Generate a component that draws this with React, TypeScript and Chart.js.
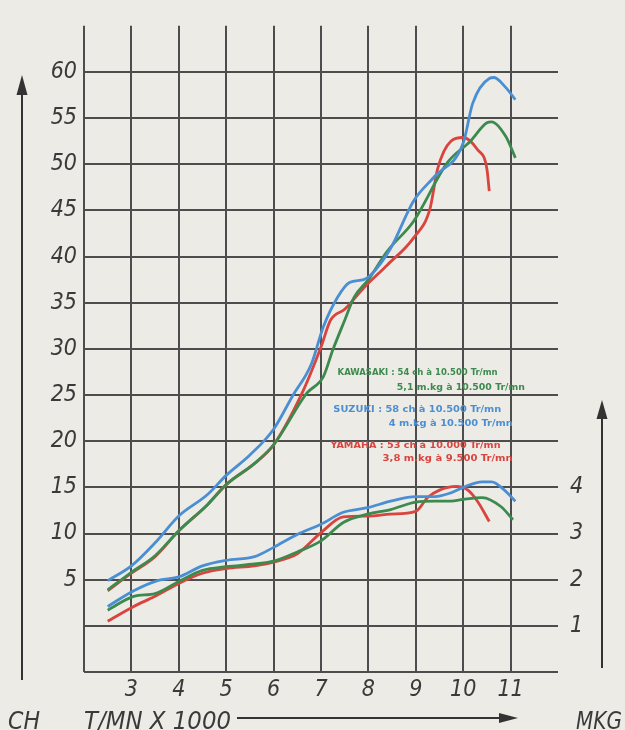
import React, { useEffect, useRef } from "react";
import { Chart, registerables } from "chart.js";

Chart.register(...registerables);

// ---- tick labels ----
const rpmTicks = [3, 4, 5, 6, 7, 8, 9, 10, 11];
const chTicks = [5, 10, 15, 20, 25, 30, 35, 40, 45, 50, 55, 60];
const mkgTicks = [1, 2, 3, 4];

// ---- power (CH) ----
const suzukiPowerRpm = [2.5, 3.0, 3.5, 4.0, 4.6, 5.0, 5.5, 6.0, 6.4, 6.8, 7.05, 7.35, 7.6, 7.9, 8.05, 8.47, 8.95, 9.4, 10.0, 10.2, 10.55, 10.65, 10.9, 11.1];
const suzukiPower = [4.9, 6.5, 9.0, 11.9, 14.2, 16.3, 18.5, 21.3, 24.9, 28.4, 32.4, 35.6, 37.2, 37.5, 38.0, 40.9, 46.0, 48.7, 52.3, 56.6, 59.3, 59.4, 58.3, 57.0];

const kawaPowerRpm = [2.5, 3.0, 3.5, 4.0, 4.6, 5.0, 5.6, 6.0, 6.7, 7.05, 7.25, 7.5, 7.7, 8.0, 8.4, 8.95, 9.67, 10.15, 10.5, 10.6, 10.9, 11.1];
const kawaPower = [3.9, 5.8, 7.6, 10.3, 13.1, 15.3, 17.6, 19.6, 25.2, 27.0, 29.9, 33.1, 35.6, 37.5, 40.6, 43.8, 50.2, 52.5, 54.5, 54.6, 53.0, 50.7];

const yamahaPowerRpm = [2.5, 3.0, 3.5, 4.0, 4.6, 5.0, 5.6, 6.0, 6.6, 7.0, 7.2, 7.5, 7.9, 8.4, 8.95, 9.3, 9.46, 9.74, 10.0, 10.3, 10.5, 10.55];
const yamahaPower = [3.8, 5.7, 7.5, 10.3, 13.1, 15.3, 17.6, 19.6, 25.2, 30.2, 33.1, 34.3, 36.6, 39.1, 42.0, 45.2, 49.5, 52.5, 52.9, 51.6, 49.5, 47.1];

// ---- torque (MKG) ----
const suzukiTorqueRpm = [2.5, 3.05, 3.55, 4.0, 4.5, 5.0, 5.6, 6.0, 6.5, 7.0, 7.47, 7.98, 8.47, 9.0, 9.4, 9.74, 10.0, 10.4, 10.6, 10.87, 11.1];
const suzukiTorque = [1.42, 1.76, 1.98, 2.06, 2.3, 2.42, 2.5, 2.7, 2.98, 3.2, 3.46, 3.56, 3.7, 3.8, 3.8, 3.88, 4.0, 4.12, 4.12, 3.94, 3.7];

const kawaTorqueRpm = [2.5, 3.05, 3.5, 4.0, 4.5, 5.0, 5.6, 6.0, 6.5, 7.0, 7.47, 7.98, 8.47, 9.0, 9.4, 9.74, 10.0, 10.4, 10.8, 11.05];
const kawaTorque = [1.34, 1.64, 1.7, 1.96, 2.2, 2.28, 2.34, 2.4, 2.6, 2.84, 3.24, 3.42, 3.52, 3.68, 3.7, 3.7, 3.74, 3.78, 3.58, 3.3];

const yamahaTorqueRpm = [2.5, 3.05, 3.5, 4.0, 4.5, 5.0, 5.6, 6.0, 6.5, 7.0, 7.47, 7.98, 8.47, 9.0, 9.25, 9.5, 9.85, 10.1, 10.3, 10.55];
const yamahaTorque = [1.1, 1.42, 1.64, 1.92, 2.14, 2.24, 2.3, 2.38, 2.56, 3.02, 3.36, 3.38, 3.42, 3.48, 3.78, 3.94, 4.02, 3.94, 3.7, 3.26];

// ---- notes ----
const kawaNote = ["KAWASAKI : 54 ch à 10.500 Tr/mn", "5,1 m.kg à 10.500 Tr/mn"];
const suzukiNote = ["SUZUKI : 58 ch à 10.500 Tr/mn", "4 m.kg à 10.500 Tr/mn"];
const yamahaNote = ["YAMAHA : 53 ch à 10.000 Tr/mn", "3,8 m.kg à 9.500 Tr/mn"];

const BLUE = "#4a8ed4";
const GREEN = "#3d8a4f";
const RED = "#d9443f";
const GRID = "#4d4d4d";
const INK = "#3a3a3a";
const PAPER = "#ecebe5";
const FONT = "'DejaVu Sans Condensed', 'Liberation Sans Narrow', 'DejaVu Sans', sans-serif";

const pts = (xs: number[], ys: number[]) => xs.map((x, i) => ({ x, y: ys[i] }));

function fitText(ctx: CanvasRenderingContext2D, text: string, x: number, y: number, w: number, font: string, color: string) {
  ctx.save();
  ctx.font = font;
  ctx.fillStyle = color;
  ctx.textAlign = "left";
  ctx.textBaseline = "alphabetic";
  const m = ctx.measureText(text).width;
  ctx.translate(x, y);
  ctx.scale(w / m, 1);
  ctx.fillText(text, 0, 0);
  ctx.restore();
}

const decor = {
  id: "decor",
  beforeDraw(chart: any) {
    const { ctx, width, height } = chart;
    ctx.save();
    ctx.fillStyle = PAPER;
    ctx.fillRect(0, 0, width, height);
    ctx.restore();
  },
  afterDraw(chart: any) {
    const ctx: CanvasRenderingContext2D = chart.ctx;
    const xs = chart.scales.x;
    const ys = chart.scales.y;
    ctx.save();
    ctx.strokeStyle = "#333";
    ctx.fillStyle = "#333";
    ctx.lineWidth = 2;
    // left arrow
    ctx.beginPath();
    ctx.moveTo(22, 680);
    ctx.lineTo(22, 92);
    ctx.stroke();
    ctx.beginPath();
    ctx.moveTo(22, 75);
    ctx.lineTo(16.5, 95);
    ctx.lineTo(27.5, 95);
    ctx.closePath();
    ctx.fill();
    // right arrow
    ctx.beginPath();
    ctx.moveTo(602, 668);
    ctx.lineTo(602, 415);
    ctx.stroke();
    ctx.beginPath();
    ctx.moveTo(602, 400);
    ctx.lineTo(596.5, 419);
    ctx.lineTo(607.5, 419);
    ctx.closePath();
    ctx.fill();
    // bottom arrow
    ctx.beginPath();
    ctx.moveTo(237, 718);
    ctx.lineTo(502, 718);
    ctx.stroke();
    ctx.beginPath();
    ctx.moveTo(518, 718);
    ctx.lineTo(499, 713);
    ctx.lineTo(499, 723);
    ctx.closePath();
    ctx.fill();
    ctx.restore();

    const big = `italic 24px ${FONT}`;
    fitText(ctx, "CH", 8, 729, 32, big, INK);
    fitText(ctx, "T/MN X 1000", 84, 729, 147, big, INK);
    fitText(ctx, "MKG", 576, 729, 46, big, INK);

    const note = `bold 9px ${FONT}`;
    const px = (v: number) => xs.getPixelForValue(v);
    const py = (v: number) => ys.getPixelForValue(v);
    fitText(ctx, kawaNote[0], px(7.35), py(27.2), 160, note, GREEN);
    fitText(ctx, kawaNote[1], px(8.6), py(25.6), 128, note, GREEN);
    fitText(ctx, suzukiNote[0], px(7.26), py(23.2), 168, note, BLUE);
    fitText(ctx, suzukiNote[1], px(8.43), py(21.7), 124, note, BLUE);
    fitText(ctx, yamahaNote[0], px(7.2), py(19.3), 170, note, RED);
    fitText(ctx, yamahaNote[1], px(8.3), py(17.9), 130, note, RED);
  },
};

export default function App() {
  const ref = useRef<HTMLCanvasElement | null>(null);
  useEffect(() => {
    const line = (label: string, data: any, color: string, axis: string) => ({
      label,
      data,
      borderColor: color,
      backgroundColor: color,
      borderWidth: 2.8,
      pointRadius: 0,
      fill: false,
      cubicInterpolationMode: "monotone" as const,
      yAxisID: axis,
    });
    const tickFont = { family: FONT, size: 23, style: "italic" as const };
    const chart = new Chart(ref.current as HTMLCanvasElement, {
      type: "line",
      data: {
        datasets: [
          line("Suzuki CH", pts(suzukiPowerRpm, suzukiPower), BLUE, "y"),
          line("Kawasaki CH", pts(kawaPowerRpm, kawaPower), GREEN, "y"),
          line("Yamaha CH", pts(yamahaPowerRpm, yamahaPower), RED, "y"),
          line("Suzuki MKG", pts(suzukiTorqueRpm, suzukiTorque), BLUE, "y1"),
          line("Kawasaki MKG", pts(kawaTorqueRpm, kawaTorque), GREEN, "y1"),
          line("Yamaha MKG", pts(yamahaTorqueRpm, yamahaTorque), RED, "y1"),
        ],
      },
      options: {
        responsive: false,
        animation: false,
        layout: { padding: { top: 15, left: 0, right: 0, bottom: 0 } },
        plugins: { legend: { display: false }, tooltip: { enabled: false } },
        scales: {
          x: {
            type: "linear",
            min: 2,
            max: 12,
            position: "bottom",
            border: { display: false },
            grid: {
              color: (c: any) => (c.tick && c.tick.value === 12 ? "rgba(0,0,0,0)" : GRID),
              lineWidth: 2,
              drawTicks: false,
            },
            ticks: {
              stepSize: 1,
              autoSkip: false,
              maxRotation: 0,
              padding: 4,
              color: INK,
              font: tickFont,
              callback: (v: any) => (rpmTicks.includes(Number(v)) ? String(v) : ""),
            },
            afterFit: (s: any) => {
              s.height = 58;
            },
          },
          y: {
            type: "linear",
            min: -5,
            max: 65,
            position: "left",
            border: { display: false },
            grid: {
              color: (c: any) => (c.tick && c.tick.value === 65 ? "rgba(0,0,0,0)" : GRID),
              lineWidth: 2,
              drawTicks: false,
            },
            ticks: {
              stepSize: 5,
              autoSkip: false,
              padding: 7,
              color: INK,
              font: tickFont,
              callback: (v: any) => (chTicks.includes(Number(v)) ? String(v) : ""),
            },
            afterFit: (s: any) => {
              s.width = 84;
            },
          },
          y1: {
            type: "linear",
            min: 0,
            max: 14,
            position: "right",
            border: { display: false },
            grid: { display: false, drawTicks: false },
            ticks: {
              stepSize: 1,
              autoSkip: false,
              padding: 12,
              color: INK,
              font: tickFont,
              callback: (v: any) => (mkgTicks.includes(Number(v)) ? String(v) : ""),
            },
            afterFit: (s: any) => {
              s.width = 67;
            },
          },
        },
      },
      plugins: [decor],
    });
    return () => chart.destroy();
  }, []);

  return (
    <div style={{ position: "absolute", left: 0, top: 0, width: 625, height: 730, background: PAPER }}>
      <canvas ref={ref} width={625} height={730} style={{ display: "block", width: 625, height: 730 }} />
    </div>
  );
}
